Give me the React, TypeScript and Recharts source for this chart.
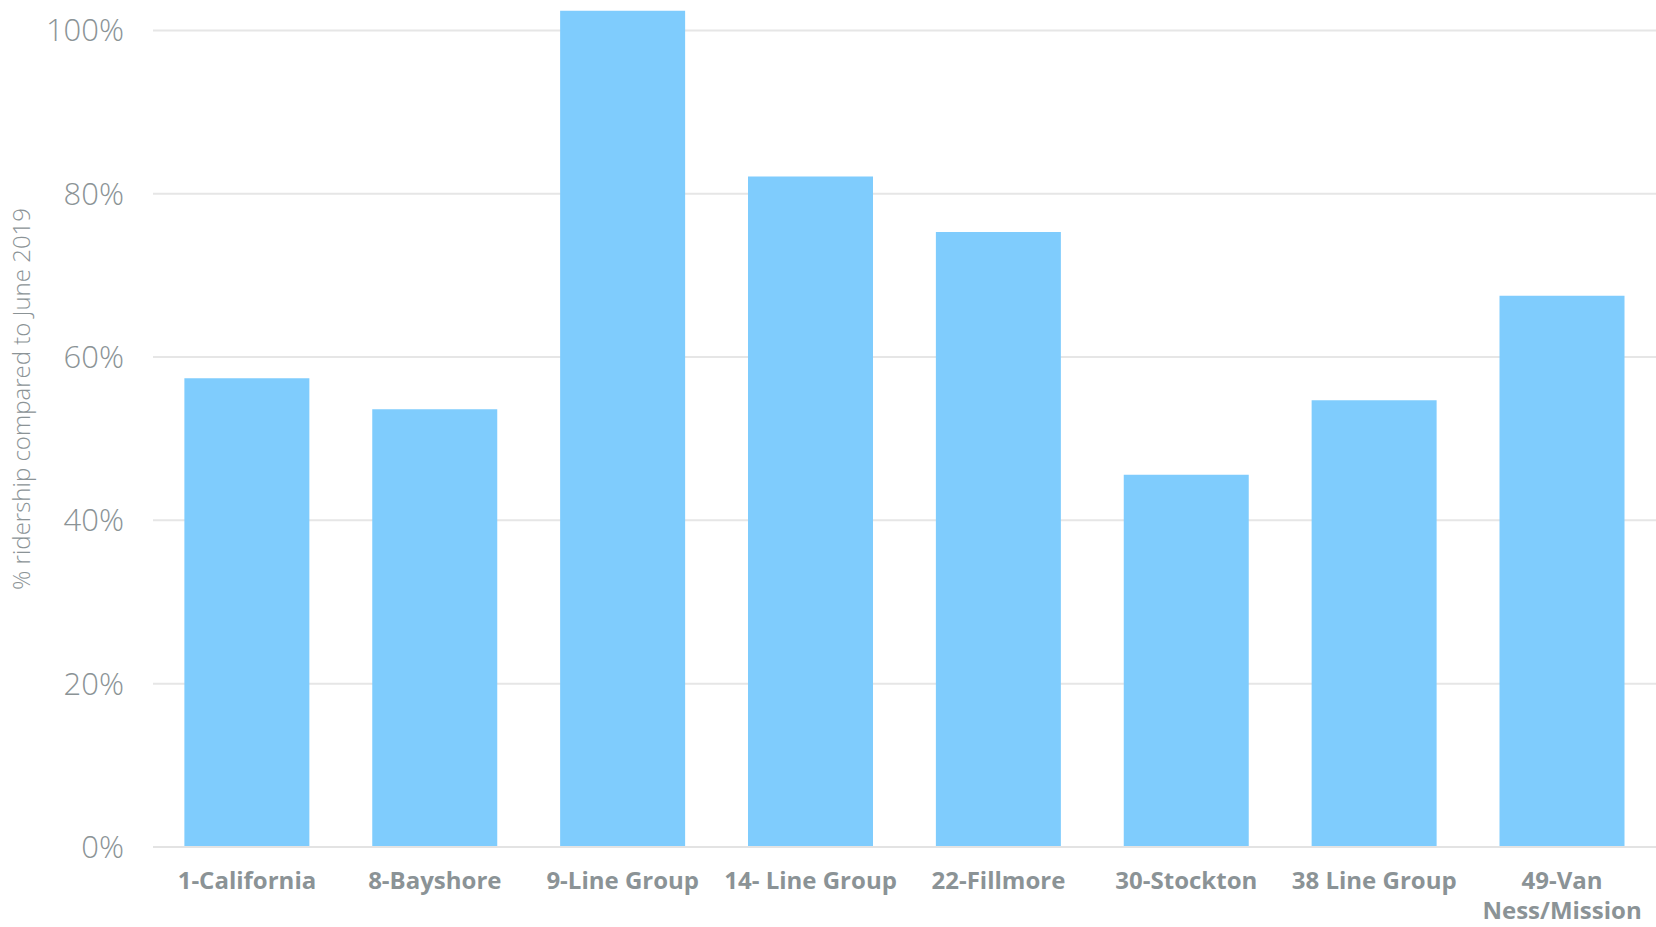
import React from "react";
import { BarChart, Bar, XAxis, YAxis, CartesianGrid } from "recharts";

const routes = [
  "1-California",
  "8-Bayshore",
  "9-Line Group",
  "14- Line Group",
  "22-Fillmore",
  "30-Stockton",
  "38 Line Group",
  "49-Van Ness/Mission",
];
const ridership = [57.4, 53.6, 102.4, 82.1, 75.3, 45.6, 54.7, 67.5];
const yTicks = [0, 20, 40, 60, 80, 100];

const data = routes.map((name, i) => ({ name, value: ridership[i] }));

const GRAY = "#8b9396";
const FONT = "'Open Sans', sans-serif";

const RouteTick = (props: any) => {
  const { x, y, payload } = props;
  const label: string = payload.value;
  let lines = [label];
  // long names go on two lines, split at the first space
  if (label.length > 16 && label.indexOf(" ") > 0) {
    const cut = label.indexOf(" ");
    lines = [label.slice(0, cut), label.slice(cut + 1)];
  }
  return (
    <text
      x={x}
      y={y}
      textAnchor="middle"
      fill={GRAY}
      fontFamily={FONT}
      fontSize={24}
      fontWeight={700}
    >
      {lines.map((l, i) => (
        <tspan key={i} x={x} dy={i === 0 ? 42 : 30}>
          {l}
        </tspan>
      ))}
    </text>
  );
};

const AxisTitle = () => (
  <text
    x={22}
    y={399}
    transform="rotate(-90, 22, 399)"
    textAnchor="middle"
    dy="0.35em"
    fill={GRAY}
    fontFamily={FONT}
    fontSize={24}
    fontWeight={300}
  >
    % ridership compared to June 2019
  </text>
);

export default function App() {
  return (
    <div style={{ position: "absolute", left: 0, top: 0 }}>
      <BarChart
        width={1656}
        height={927}
        data={data}
        margin={{ top: 10, right: 0, left: 0, bottom: 0 }}
        barCategoryGap="16.7%"
      >
        <CartesianGrid
          vertical={false}
          horizontalValues={yTicks}
          stroke="#e6e6e6"
          strokeWidth={2}
        />
        <XAxis
          dataKey="name"
          height={80}
          tickLine={false}
          tickSize={0}
          tickMargin={0}
          axisLine={{ stroke: "#e3e3e3", strokeWidth: 2 }}
          tick={<RouteTick />}
          interval={0}
        />
        <YAxis
          width={153}
          domain={[0, 102.5]}
          ticks={yTicks}
          tickFormatter={(v: number) => `${v}%`}
          axisLine={false}
          tickLine={false}
          tickSize={0}
          tickMargin={29}
          tick={{ fill: GRAY, fontSize: 31, fontWeight: 300, fontFamily: FONT }}
          label={{ content: () => <AxisTitle /> }}
        />
        <Bar dataKey="value" fill="#7fccfd" isAnimationActive={false} />
      </BarChart>
    </div>
  );
}
